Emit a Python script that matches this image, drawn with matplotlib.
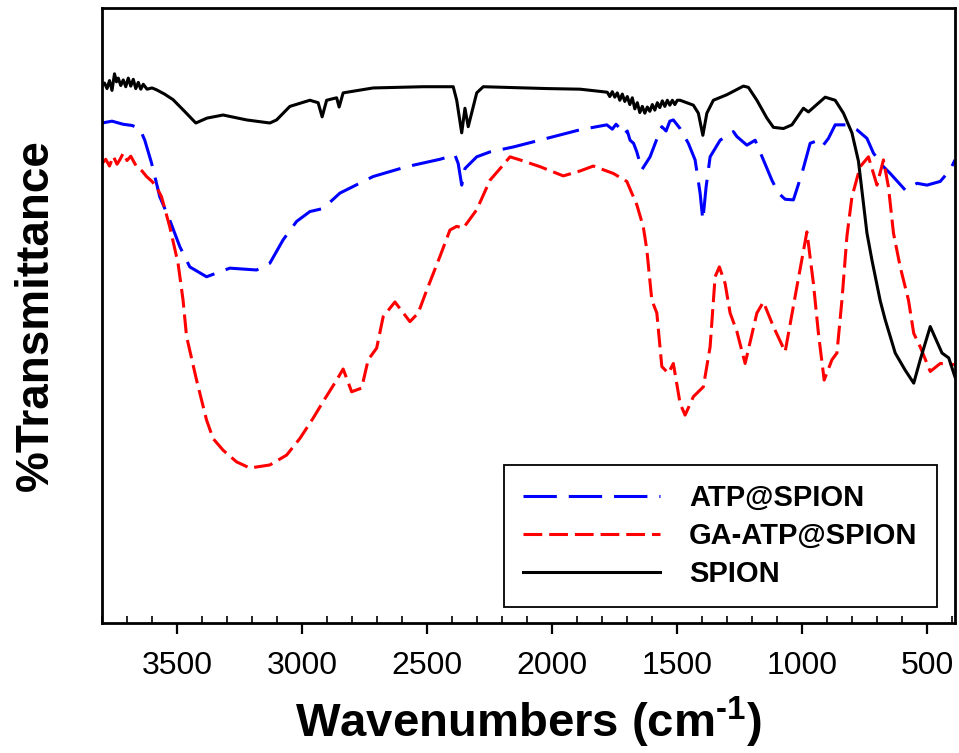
import matplotlib
matplotlib.use("Agg")
import matplotlib.pyplot as plt
from matplotlib.ticker import MultipleLocator

# ---------------- data ----------------
spion_wn = [3800, 3790, 3780, 3770, 3760, 3750, 3742, 3735, 3725, 3715, 3705, 3695, 3685,
            3675, 3665, 3655, 3645, 3635, 3620, 3600, 3582, 3550, 3516, 3470, 3425, 3380,
            3316, 3222, 3129, 3102, 3049, 2969, 2936, 2920, 2902, 2862, 2852, 2836, 2716,
            2516, 2396, 2382, 2362, 2349, 2336, 2302, 2276, 2022, 1889, 1800, 1780, 1770,
            1760, 1750, 1740, 1730, 1720, 1710, 1700, 1690, 1680, 1670, 1660, 1650, 1640,
            1630, 1620, 1610, 1600, 1590, 1580, 1570, 1560, 1550, 1540, 1530, 1520, 1510,
            1500, 1489, 1436, 1416, 1398, 1382, 1356, 1302, 1236, 1216, 1182, 1142, 1116,
            1076, 1042, 996, 976, 909, 869, 836, 802, 776, 742, 722, 689, 669, 629, 589,
            555, 529, 489, 442, 415, 390]
spion_t = [87.3, 87.8, 86.9, 88.2, 86.6, 89.3, 88.0, 88.6, 87.4, 88.3, 87.2, 88.6, 87.3,
           88.4, 86.9, 87.9, 86.8, 87.6, 86.8, 87.0, 86.7, 86.0, 85.1, 83.2, 81.3, 82.1,
           82.6, 81.8, 81.3, 81.8, 84.0, 85.0, 84.6, 82.3, 85.0, 85.4, 83.9, 86.2, 87.0,
           87.2, 87.2, 85.0, 79.7, 83.7, 80.7, 86.2, 87.2, 86.9, 86.8, 86.4, 86.3, 85.6,
           86.4, 85.5, 86.2, 85.0, 86.0, 84.8, 85.6, 84.3, 85.4, 83.6, 84.6, 83.0, 84.0,
           82.9, 83.9, 83.2, 84.3, 83.4, 84.6, 83.8, 84.9, 84.0, 85.0, 84.2, 85.0, 84.3,
           85.0, 85.0, 84.2, 82.9, 79.3, 82.9, 85.0, 85.9, 87.3, 87.1, 85.0, 82.1, 80.6,
           80.4, 81.0, 83.7, 83.1, 85.5, 85.0, 82.9, 79.7, 75.1, 63.4, 59.0, 52.4, 49.3,
           43.9, 41.1, 39.0, 42.8, 48.2, 43.9, 43.1, 40.0]

atp_wn = [3800, 3760, 3716, 3680, 3649, 3629, 3602, 3569, 3529, 3489, 3449, 3382, 3289,
          3182, 3129, 3076, 3022, 2969, 2916, 2849, 2716, 2582, 2449, 2389, 2376, 2362,
          2349, 2302, 2249, 2156, 2022, 1889, 1782, 1760, 1745, 1729, 1715, 1700, 1689,
          1675, 1662, 1642, 1609, 1580, 1562, 1545, 1530, 1516, 1489, 1456, 1429, 1409,
          1398, 1385, 1369, 1329, 1276, 1262, 1222, 1189, 1156, 1122, 1096, 1069, 1036,
          1002, 969, 949, 922, 896, 869, 822, 782, 742, 716, 676, 649, 589, 542, 502,
          449, 409, 390]
atp_t = [81.3, 81.6, 81.1, 80.9, 80.4, 78.5, 74.8, 69.3, 65.5, 61.2, 57.9, 56.3, 57.7,
         57.4, 58.5, 62.3, 65.3, 66.9, 67.4, 69.9, 72.6, 74.2, 75.4, 76.1, 74.7, 71.2,
         73.9, 75.8, 76.6, 77.4, 78.8, 80.2, 81.0, 80.3, 81.1, 80.4, 79.4, 80.0, 78.5,
         78.0, 76.6, 73.7, 75.8, 78.9, 80.7, 80.0, 81.6, 81.8, 80.4, 78.0, 75.3, 69.9,
         65.5, 70.9, 75.8, 78.5, 79.9, 79.1, 77.7, 78.5, 75.3, 72.0, 69.9, 68.9, 68.8,
         73.1, 78.0, 78.3, 77.4, 78.8, 81.0, 81.0, 80.2, 78.8, 76.4, 74.2, 73.1, 70.4,
         71.5, 71.2, 71.8, 73.7, 75.3]

ga_wn = [3800, 3785, 3770, 3755, 3740, 3729, 3715, 3700, 3685, 3662, 3640, 3622, 3600,
         3582, 3562, 3529, 3496, 3476, 3462, 3422, 3382, 3356, 3316, 3262, 3209, 3129,
         3062, 3009, 2956, 2916, 2862, 2836, 2802, 2762, 2736, 2702, 2676, 2629, 2569,
         2536, 2502, 2449, 2409, 2382, 2356, 2336, 2302, 2249, 2202, 2169, 2129, 2049,
         1956, 1889, 1836, 1756, 1702, 1662, 1636, 1622, 1602, 1582, 1562, 1536, 1516,
         1489, 1469, 1436, 1396, 1369, 1349, 1332, 1309, 1289, 1262, 1229, 1182, 1156,
         1116, 1069, 1022, 982, 956, 936, 913, 882, 862, 842, 822, 802, 769, 736, 716,
         702, 676, 656, 636, 609, 576, 555, 529, 489, 449, 390]
ga_t = [74.7, 75.4, 74.3, 75.9, 74.6, 75.3, 76.4, 75.2, 75.9, 74.2, 73.5, 72.6, 71.8,
        70.9, 69.3, 64.4, 58.5, 52.5, 46.6, 39.5, 33.0, 30.0, 28.1, 26.2, 25.2, 25.7,
        27.3, 30.0, 33.3, 36.0, 39.5, 41.3, 37.6, 38.2, 42.8, 44.7, 49.8, 52.2, 49.0,
        50.4, 54.1, 59.6, 63.9, 64.5, 64.2, 65.3, 67.2, 72.0, 74.2, 75.8, 75.3, 74.2,
        72.7, 73.5, 74.3, 73.1, 71.8, 68.0, 64.4, 60.7, 52.5, 50.4, 41.7, 40.6, 42.2,
        35.7, 33.8, 36.8, 38.4, 44.9, 56.3, 57.9, 55.2, 50.4, 47.4, 42.2, 50.4, 52.2,
        48.2, 44.1, 54.7, 63.6, 55.2, 47.1, 39.5, 42.8, 43.9, 52.5, 62.9, 69.3, 74.2,
        75.8, 73.1, 71.2, 75.3, 70.9, 63.4, 57.9, 52.5, 47.1, 44.9, 40.9, 42.2, 42.0]

labels = ["ATP@SPION", "GA-ATP@SPION", "SPION"]
xticks = [3500, 3000, 2500, 2000, 1500, 1000, 500]

# ---------------- figure ----------------
plt.rcParams['font.family'] = ['Liberation Sans', 'DejaVu Sans']
plt.rcParams['lines.scale_dashes'] = False
plt.rcParams['mathtext.fontset'] = 'custom'
plt.rcParams['mathtext.rm'] = 'Liberation Sans:bold'
plt.rcParams['mathtext.bf'] = 'Liberation Sans:bold'
plt.rcParams['mathtext.it'] = 'Liberation Sans:bold'

fig = plt.figure(figsize=(9.59, 7.53), dpi=100)
ax = fig.add_axes([102/959, 1-623/753, (955-102)/959, (623-8)/753])

lw = 2.2
ax.plot(atp_wn, atp_t, color='#0000ff', lw=lw, dashes=(24, 8.6), label=labels[0])
ax.plot(ga_wn, ga_t, color='#ff0000', lw=lw, dashes=(13.5, 5), label=labels[1])
ax.plot(spion_wn, spion_t, color='black', lw=lw, label=labels[2])

ax.set_xlim(3800, 390)
ax.set_ylim(0, 100)
ax.set_yticks([])
ax.set_xticks(xticks)
ax.xaxis.set_minor_locator(MultipleLocator(100))
ax.tick_params(axis='x', which='major', direction='out', length=8, width=1.6,
               labelsize=23, pad=12, top=False)
ax.tick_params(axis='x', which='minor', direction='in', length=5, width=1.2, top=False)
for s in ax.spines.values():
    s.set_linewidth(2.0)

ax.set_xlabel('Wavenumbers (cm$^{\\text{-1}}$)', fontsize=34, fontweight='bold', labelpad=10)
ax.set_ylabel('%Transmittance', fontsize=33, fontweight='bold', labelpad=32)

leg = ax.legend(loc='upper left', bbox_to_anchor=(504/959, 1-465/753),
                bbox_transform=fig.transFigure, borderaxespad=0,
                prop={'family': 'Liberation Sans', 'weight': 'bold', 'size': 21},
                handlelength=4.7, handletextpad=1.0, borderpad=0.65, labelspacing=0.34,
                fancybox=False, framealpha=1, edgecolor='black')
leg.get_frame().set_linewidth(1.3)

fig.savefig('out.png', dpi=100)
